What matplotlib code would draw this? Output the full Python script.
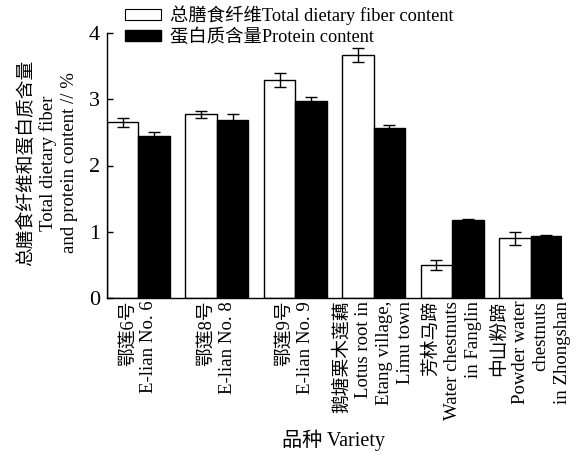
import numpy as np
import matplotlib
matplotlib.use("Agg")
import matplotlib.pyplot as plt
from matplotlib.patches import Patch

plt.rcParams['font.family'] = ['Liberation Serif', 'Noto Sans CJK SC']

varieties = ["鄂莲6号\nE-lian No. 6",
             "鄂莲8号\nE-lian No. 8",
             "鄂莲9号\nE-lian No. 9",
             "鹅塘栗木莲藕\nLotus root in\nEtang village,\nLimu town",
             "芳林马蹄\nWater chestnuts\nin Fanglin",
             "中山粉蹄\nPowder water\nchestnuts\nin Zhongshan"]
fiber = [2.65, 2.77, 3.29, 3.67, 0.50, 0.90]
fiber_err = [0.07, 0.05, 0.11, 0.11, 0.08, 0.10]
protein = [2.44, 2.68, 2.97, 2.56, 1.17, 0.93]
protein_err = [0.07, 0.10, 0.06, 0.05, 0.03, 0.02]

fiber_label = "总膳食纤维Total dietary fiber content"
protein_label = "蛋白质含量Protein content"

fig = plt.figure(figsize=(5.82, 4.55), dpi=100)
ax = fig.add_axes([107 / 582, 1 - 298 / 455, 455 / 582, 265 / 455])

x = np.arange(len(varieties))
w = 0.4
ax.bar(x - w / 2, fiber, w, color="white", edgecolor="black", linewidth=1.0)
ax.bar(x + w / 2, protein, w, color="black", edgecolor="black", linewidth=1.0)
ax.errorbar(x - w / 2, fiber, yerr=fiber_err, fmt="none", ecolor="black",
            elinewidth=1.0, capsize=4.5, capthick=1.0)
ax.errorbar(x + w / 2, protein, yerr=protein_err, fmt="none", ecolor="black",
            elinewidth=1.0, capsize=4.5, capthick=1.0)

ax.set_xlim(-w, len(varieties) - 1 + w)
ax.set_ylim(0, 4)
ax.set_yticks([0, 1, 2, 3, 4])
ax.tick_params(axis="y", direction="in", length=4, width=1, labelsize=16, pad=5)
ax.tick_params(axis="x", length=0, pad=2)
ax.set_xticks(x)
ax.set_xticklabels(varieties, rotation=90, va="top", ha="center",
                   multialignment="right", fontsize=13.5, linespacing=1.3)
for s in ["top", "right"]:
    ax.spines[s].set_visible(False)
for s in ["left", "bottom"]:
    ax.spines[s].set_linewidth(1.0)

fig.text(47 / 582, 1 - 163 / 455,
         "总膳食纤维和蛋白质含量\nTotal dietary fiber\nand protein content // %",
         rotation=90, ha="center", va="center", multialignment="center",
         fontsize=13.5, linespacing=1.3)
fig.text(334 / 582, 1 - 440 / 455, "品种 Variety", ha="center", va="center",
         fontsize=14.5)

handles = [Patch(facecolor="white", edgecolor="black", linewidth=0.8),
           Patch(facecolor="black", edgecolor="black")]
fig.legend(handles, [fiber_label, protein_label], loc="upper left",
           bbox_to_anchor=(116 / 582, 1.008), frameon=False, fontsize=13.2,
           handlelength=1.95, handleheight=0.5, handletextpad=0.5,
           labelspacing=0.18, borderaxespad=0.1)

fig.savefig("out.png", dpi=100)
